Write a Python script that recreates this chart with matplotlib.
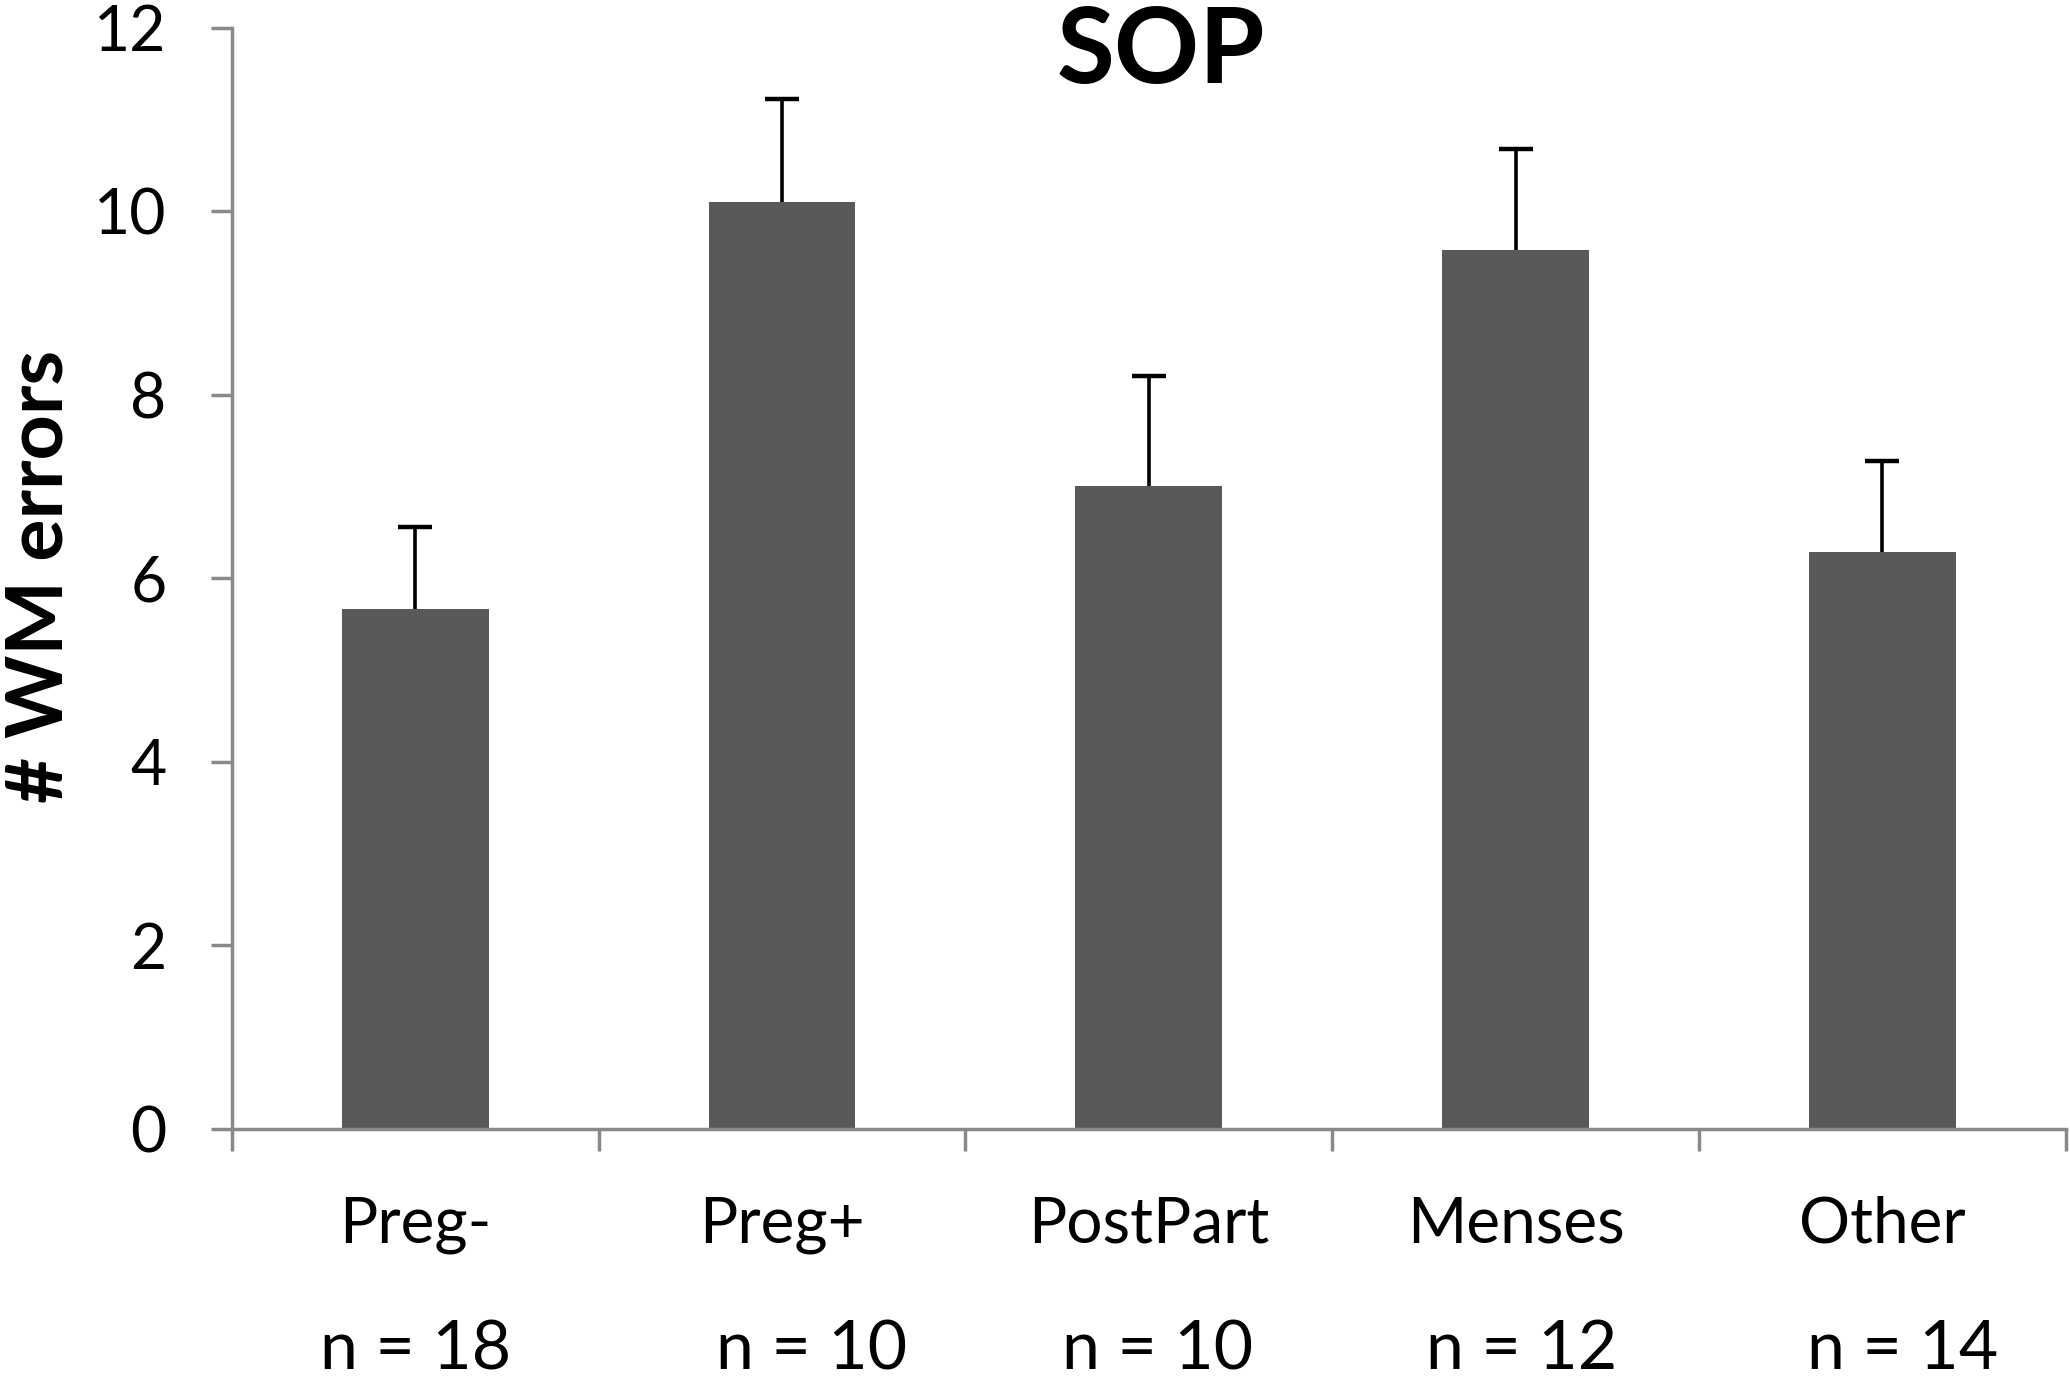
import numpy as np
import matplotlib
matplotlib.use("Agg")
import matplotlib.pyplot as plt

categories = ["Preg-", "Preg+", "PostPart", "Menses", "Other"]
n_labels = ["n = 18", "n = 10", "n = 10", "n = 12", "n = 14"]
means = [5.66, 10.1, 7.0, 9.58, 6.28]
sem = [0.9, 1.12, 1.2, 1.1, 1.0]
y_ticks = [0, 2, 4, 6, 8, 10, 12]

# small horizontal nudges of the n labels, as in the original layout
n_shift = [0.0, 0.08, 0.025, 0.015, 0.055]

plt.rcParams['font.family'] = ['Lato', 'DejaVu Sans']

fig = plt.figure(figsize=(20.7, 13.82), dpi=100)
ax = fig.add_axes([0.112, 0.1833, 0.886, 0.7967])

x = np.arange(len(categories))
zeros = [0] * len(sem)
ax.bar(x, means, width=0.4, color='#595959', zorder=2)
eb = ax.errorbar(x, means, yerr=[zeros, sem], fmt='none', ecolor='black',
                 elinewidth=2.6, capsize=12, capthick=3.2, zorder=3)
# only the upper cap is drawn
eb[1][0].set_visible(False)

ax.set_xlim(-0.5, 4.5)
ax.set_ylim(0, 12)
ax.set_yticks(y_ticks)
ax.set_yticklabels([str(t) for t in y_ticks], fontsize=45)

spine_color = '#898989'
for side in ['top', 'right']:
    ax.spines[side].set_visible(False)
for side in ['left', 'bottom']:
    ax.spines[side].set_color(spine_color)
    ax.spines[side].set_linewidth(2.5)

ax.tick_params(axis='y', length=15, width=2.5, color=spine_color, pad=32)
ax.set_xticks(np.arange(-0.5, 5.0, 1.0))
ax.set_xticklabels([])
ax.tick_params(axis='x', length=16, width=2.5, color=spine_color)

trans = ax.get_xaxis_transform()
for i, (cat, n) in enumerate(zip(categories, n_labels)):
    ax.text(i, -0.1038, cat, transform=trans, ha='center', va='baseline',
            fontsize=46)
    ax.text(i + n_shift[i], -0.2295, n, transform=trans, ha='center',
            va='bottom', fontsize=49)

fig.text(0.561, 0.9616, "SOP", ha='center', va='center', fontsize=76,
         fontweight='bold')
fig.text(0.002, 0.583, "# WM errors", ha='left', va='center', rotation=90,
         fontsize=57, fontweight='bold')

fig.savefig("out.png", dpi=100)
